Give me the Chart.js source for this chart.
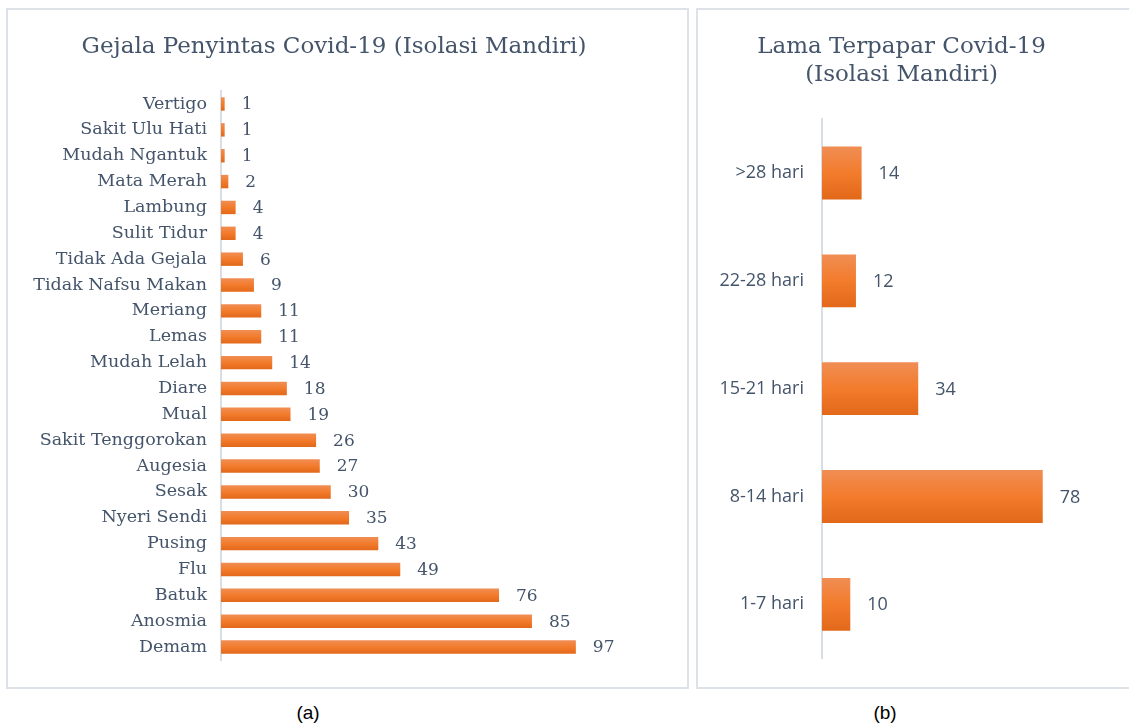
<!DOCTYPE html>
<html>
<head>
<meta charset="utf-8">
<script src="https://cdn.jsdelivr.net/npm/chart.js@4.4.1/dist/chart.umd.min.js"></script>
<style>
  body { margin: 0; background: #fff; width: 1129px; height: 727px; overflow: hidden; position: relative; }
  .box { position: absolute; border: 2px solid #DDE1E8; box-sizing: border-box; }
  .cap { position: absolute; font-family: 'Liberation Sans', Arial, sans-serif; font-size: 19px; color: #000; transform: translateX(-50%); }
</style>
</head>
<body>
<div class="box" style="left:6px; top:8px; width:683px; height:681px;"></div>
<div class="box" style="left:696px; top:8px; width:450px; height:681px;"></div>
<canvas id="symptomChart" style="position:absolute; left:8px; top:10px;" width="679" height="677"></canvas>
<canvas id="durationChart" style="position:absolute; left:698px; top:10px;" width="431" height="677"></canvas>
<div class="cap" style="left:308px; top:702px;">(a)</div>
<div class="cap" style="left:885px; top:702px;">(b)</div>
<script>
// Data
const symptomLabels = ['Vertigo', 'Sakit Ulu Hati', 'Mudah Ngantuk', 'Mata Merah', 'Lambung', 'Sulit Tidur',
    'Tidak Ada Gejala', 'Tidak Nafsu Makan', 'Meriang', 'Lemas', 'Mudah Lelah', 'Diare', 'Mual',
    'Sakit Tenggorokan', 'Augesia', 'Sesak', 'Nyeri Sendi', 'Pusing', 'Flu', 'Batuk', 'Anosmia', 'Demam'];
const symptomValues = [1, 1, 1, 2, 4, 4, 6, 9, 11, 11, 14, 18, 19, 26, 27, 30, 35, 43, 49, 76, 85, 97];

const durationLabels = ['>28 hari', '22-28 hari', '15-21 hari', '8-14 hari', '1-7 hari'];
const durationValues = [14, 12, 34, 78, 10];

const textColor = '#44546A';
const axisColor = '#D9DDE4';

// Gradient fill per bar (light top, darker bottom), plus value labels at the bar end
const barStyle = {
    id: 'barStyle',
    beforeDatasetsDraw(chart) {
        const ctx = chart.ctx;
        chart.getDatasetMeta(0).data.forEach(function(bar) {
            const top = bar.y - bar.height / 2;
            const bottom = bar.y + bar.height / 2;
            const grad = ctx.createLinearGradient(0, top, 0, bottom);
            grad.addColorStop(0, '#F08E54');
            grad.addColorStop(0.5, '#F37B2C');
            grad.addColorStop(1, '#E2681A');
            bar.options.backgroundColor = grad;
        });
    },
    afterDatasetsDraw(chart, args, opts) {
        const ctx = chart.ctx;
        const values = chart.data.datasets[0].data;
        ctx.save();
        ctx.fillStyle = textColor;
        ctx.font = opts.font;
        ctx.textAlign = 'left';
        ctx.textBaseline = 'middle';
        chart.getDatasetMeta(0).data.forEach(function(bar, i) {
            ctx.fillText(String(values[i]), bar.x + opts.gap, bar.y + 1);
        });
        ctx.restore();
    }
};

function makeChart(id, labels, values, cfg) {
    const ctx = document.getElementById(id).getContext('2d');
    return new Chart(ctx, {
        type: 'bar',
        data: {
            labels: labels,
            datasets: [{
                data: values,
                backgroundColor: function() { return '#F37B2C'; },
                borderWidth: 0,
                barPercentage: cfg.barPercentage,
                categoryPercentage: 1
            }]
        },
        plugins: [barStyle],
        options: {
            indexAxis: 'y',
            responsive: false,
            animation: false,
            layout: { padding: cfg.padding },
            scales: {
                x: { display: false, min: 0, max: cfg.xMax },
                y: {
                    afterFit: function(scale) { scale.width = cfg.axisWidth; },
                    grid: { display: false, drawTicks: false },
                    border: { display: true, color: axisColor, width: 2 },
                    ticks: { color: textColor, font: cfg.tickFont, padding: cfg.tickPadding, autoSkip: false }
                }
            },
            plugins: {
                legend: { display: false },
                tooltip: { enabled: false },
                title: {
                    display: true,
                    text: cfg.title,
                    color: textColor,
                    font: { family: 'DejaVu Serif', size: 23, weight: 'normal', lineHeight: 1.22 },
                    padding: cfg.titlePadding
                },
                barStyle: { font: cfg.labelFont, gap: 17 }
            }
        }
    });
}

makeChart('symptomChart', symptomLabels, symptomValues, {
    title: 'Gejala Penyintas Covid-19 (Isolasi Mandiri)',
    titlePadding: { top: 23, bottom: 30 },
    padding: { left: 0, right: 27, top: 0, bottom: 27 },
    axisWidth: 213,
    xMax: 120,
    barPercentage: 0.52,
    tickPadding: 14,
    tickFont: { family: 'DejaVu Serif', size: 17.5 },
    labelFont: '17px "DejaVu Serif"'
});

makeChart('durationChart', durationLabels, durationValues, {
    title: ['Lama Terpapar Covid-19', '(Isolasi Mandiri)'],
    titlePadding: { top: 23, bottom: 30 },
    padding: { left: 0, right: 24, top: 0, bottom: 27 },
    axisWidth: 124,
    xMax: 100,
    barPercentage: 0.49,
    tickPadding: 18,
    tickFont: { family: 'Open Sans', size: 18 },
    labelFont: '18px "Open Sans"'
});
</script>
</body>
</html>
